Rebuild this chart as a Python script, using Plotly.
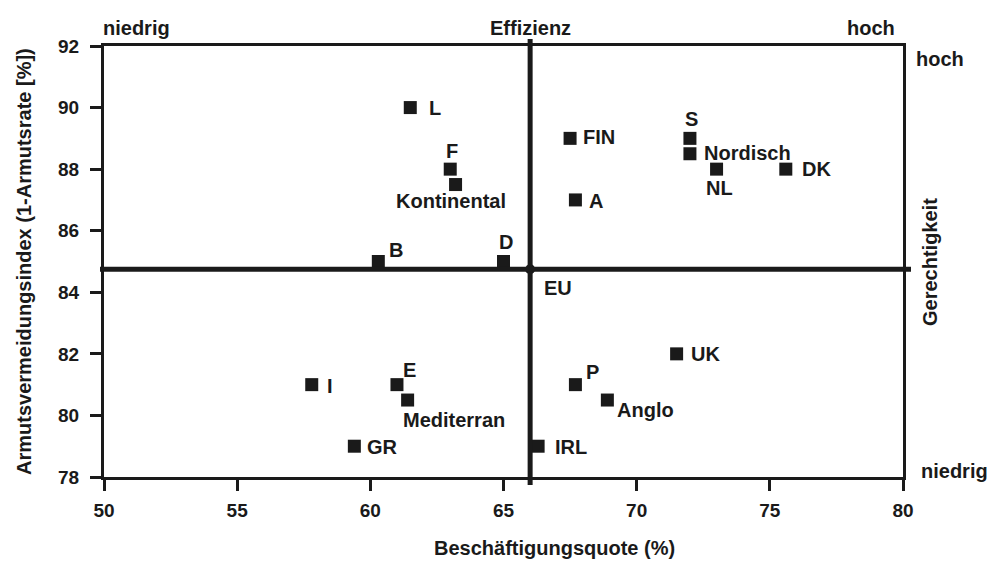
import plotly.graph_objects as go

# ---- data ----
labels = ["L", "FIN", "S", "Nordisch", "NL", "DK", "F", "Kontinental", "A", "B", "D",
          "UK", "I", "E", "P", "Mediterran", "Anglo", "GR", "IRL"]
employment = [61.5, 67.5, 72.0, 72.0, 73.0, 75.6, 63.0, 63.2, 67.7, 60.3, 65.0,
              71.5, 57.8, 61.0, 67.7, 61.4, 68.9, 59.4, 66.3]
poverty_avoid = [90.0, 89.0, 89.0, 88.5, 88.0, 88.0, 88.0, 87.5, 87.0, 85.0, 85.0,
                 82.0, 81.0, 81.0, 81.0, 80.5, 80.5, 79.0, 79.0]
eu_label = "EU"
eu_employment = 66.0
eu_poverty_avoid = 84.75

x_ticks = [50, 55, 60, 65, 70, 75, 80]
y_ticks = [78, 80, 82, 84, 86, 88, 90, 92]

# ---- styles ----
FONT = "Liberation Sans, Arial, sans-serif"
INK = "#1a1a1a"
L_PX, R_PX, T_PX, B_PX = 104, 903, 46, 477
W, H = 993, 565

def px(x):
    return (x - L_PX) / (R_PX - L_PX)

def py(y):
    return (B_PX - y) / (B_PX - T_PX)

# label placement: (xanchor, xshift, yshift)
label_style = {
    "L": ("left", 17, 0), "FIN": ("left", 11, 1), "S": ("center", 2, 19),
    "Nordisch": ("left", 12, 1), "NL": ("center", 3, -19), "DK": ("left", 14, 0),
    "F": ("center", 2, 18), "Kontinental": ("center", -5, -16), "A": ("left", 12, -1),
    "B": ("center", 18, 12), "D": ("center", 2, 20), "UK": ("left", 12, 0),
    "I": ("left", 13, -1), "E": ("center", 13, 15), "P": ("center", 17, 13),
    "Mediterran": ("left", -7, -20), "Anglo": ("left", 8, -10), "GR": ("left", 11, -1),
    "IRL": ("left", 15, -1),
}

fig = go.Figure()

# quadrant lines through the EU average
fig.add_shape(type="line", xref="x", yref="paper",
              x0=eu_employment, x1=eu_employment, y0=py(485), y1=py(39),
              line=dict(color=INK, width=5))
fig.add_shape(type="line", xref="paper", yref="y",
              x0=px(100), x1=px(911), y0=eu_poverty_avoid, y1=eu_poverty_avoid,
              line=dict(color=INK, width=5))

fig.add_trace(go.Scatter(
    x=employment, y=poverty_avoid, mode="markers",
    marker=dict(symbol="square", size=13, color=INK),
    hovertext=labels, hoverinfo="text+x+y", showlegend=False, cliponaxis=False))
fig.add_trace(go.Scatter(
    x=[eu_employment], y=[eu_poverty_avoid], mode="markers",
    marker=dict(symbol="circle", size=10, color=INK),
    hovertext=[eu_label], hoverinfo="text+x+y", showlegend=False, cliponaxis=False))

ann = []
for lab, xv, yv in zip(labels, employment, poverty_avoid):
    xa, xs, ys = label_style[lab]
    ann.append(dict(x=xv, y=yv, xref="x", yref="y", text="<b>" + lab + "</b>", showarrow=False,
                    xanchor=xa, yanchor="middle", xshift=xs, yshift=ys,
                    font=dict(family=FONT, size=20, color=INK)))
ann.append(dict(x=eu_employment, y=eu_poverty_avoid, xref="x", yref="y", text="<b>" + eu_label + "</b>",
                showarrow=False, xanchor="left", yanchor="middle", xshift=12, yshift=-19,
                font=dict(family=FONT, size=20, color=INK)))

def note(text, x, y, angle=0, size=20):
    ann.append(dict(x=px(x), y=py(y), xref="paper", yref="paper", text=text,
                    showarrow=False, xanchor="center", yanchor="middle",
                    textangle=angle, font=dict(family=FONT, size=size, color=INK)))

note("<b>niedrig</b>", 136, 28)
note("<b>Effizienz</b>", 530, 28)
note("<b>hoch</b>", 871, 28)
note("<b>hoch</b>", 940, 59)
note("<b>niedrig</b>", 954, 471)
note("<b>Gerechtigkeit</b>", 930, 262, angle=-90)
note("<b>Beschäftigungsquote (%)</b>", 554, 548)
note("<b>Armutsvermeidungsindex (1-Armutsrate [%])</b>", 24, 262, angle=-90)

axis_common = dict(showline=True, linecolor=INK, linewidth=3, mirror=True,
                   ticks="outside", ticklen=11, tickwidth=3, tickcolor=INK,
                   showgrid=False, zeroline=False,
                   tickfont=dict(family=FONT, size=19, color=INK, weight="bold"))

fig.update_layout(
    width=W, height=H,
    margin=dict(l=L_PX, r=W - R_PX, t=T_PX, b=H - B_PX),
    paper_bgcolor="white", plot_bgcolor="white",
    xaxis=dict(range=[x_ticks[0], x_ticks[-1]], tickvals=x_ticks,
               ticklabelstandoff=3, **axis_common),
    yaxis=dict(range=[y_ticks[0], y_ticks[-1]], tickvals=y_ticks,
               ticklabelstandoff=7, **axis_common),
    annotations=ann,
)

fig.write_html("out.html", config={"displayModeBar": False},
               post_script="document.body.style.margin='0';document.body.style.overflow='hidden';")
